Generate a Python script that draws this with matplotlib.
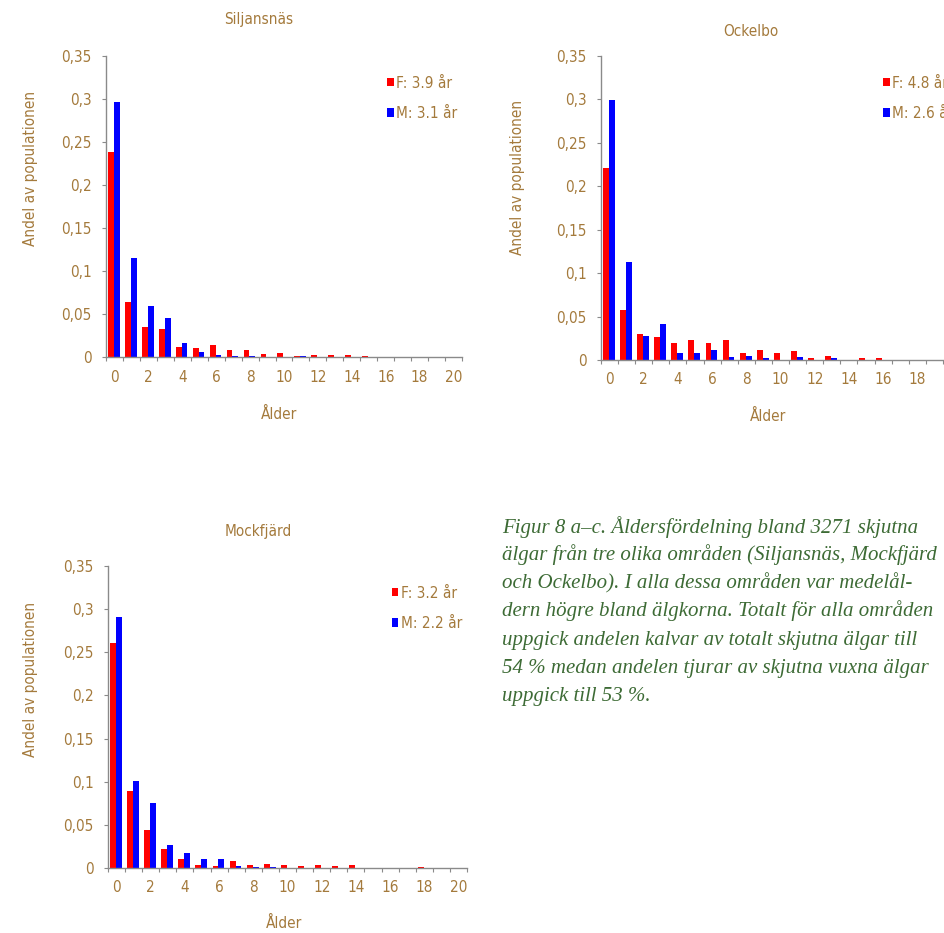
import matplotlib.pyplot as plt
import numpy as np

W, H = 944, 933

ages = list(range(21))
tick_ages = list(range(0, 21, 2))
y_ticks = [0, 0.05, 0.1, 0.15, 0.2, 0.25, 0.3, 0.35]
y_labels = ['0', '0,05', '0,1', '0,15', '0,2', '0,25', '0,3', '0,35']

# andel av populationen per ålder (0-20 år), F = kor, M = tjurar
silj_f = [0.238, 0.064, 0.035, 0.032, 0.012, 0.010, 0.014, 0.008, 0.008, 0.004,
          0.005, 0.001, 0.002, 0.002, 0.002, 0.001, 0, 0, 0, 0, 0]
silj_m = [0.296, 0.115, 0.059, 0.045, 0.016, 0.006, 0.002, 0.001, 0.001, 0,
          0, 0.001, 0, 0, 0, 0, 0, 0, 0, 0, 0]

ock_f = [0.221, 0.057, 0.030, 0.027, 0.020, 0.023, 0.020, 0.023, 0.008, 0.012,
         0.008, 0.010, 0.002, 0.005, 0, 0.002, 0.002, 0, 0, 0, 0]
ock_m = [0.299, 0.113, 0.028, 0.041, 0.008, 0.008, 0.012, 0.003, 0.005, 0.002,
         0, 0.003, 0, 0.002, 0, 0, 0, 0, 0, 0, 0]

mock_f = [0.261, 0.089, 0.044, 0.022, 0.010, 0.004, 0.002, 0.008, 0.004, 0.005,
          0.004, 0.002, 0.004, 0.002, 0.004, 0, 0, 0, 0.001, 0, 0]
mock_m = [0.291, 0.101, 0.075, 0.027, 0.017, 0.010, 0.010, 0.002, 0.001, 0.001,
          0, 0, 0, 0, 0, 0, 0, 0, 0, 0, 0]

legend_f = ['F: 3.9 år', 'F: 4.8 år', 'F: 3.2 år']
legend_m = ['M: 3.1 år', 'M: 2.6 år', 'M: 2.2 år']
titles = ['Siljansnäs', 'Ockelbo', 'Mockfjärd']

caption = [
    'Figur 8 a\u2013c. Åldersfördelning bland 3271 skjutna',
    'älgar från tre olika områden (Siljansnäs, Mockfjärd',
    'och Ockelbo). I alla dessa områden var medelål-',
    'dern högre bland älgkorna. Totalt för alla områden',
    'uppgick andelen kalvar av totalt skjutna älgar till',
    '54 % medan andelen tjurar av skjutna vuxna älgar',
    'uppgick till 53 %.',
]

brown = '#a47a3c'
green = '#3d6b35'
grey = '#8a8a8a'
narrow = dict(family=['DejaVu Sans'], stretch='condensed')
fs = 11

fig = plt.figure(figsize=(W / 100, H / 100), dpi=100)


def add_ax(left, top, right, bottom):
    return fig.add_axes([left / W, 1 - bottom / H, (right - left) / W, (bottom - top) / H])


# (pixelbox, title pos, ylabel pos, xlabel pos, legend pos) in axes coords
panels = [
    ((106, 56, 462, 357), (0.43, 1.12), (-0.191, 0.628), (0.486, -0.166), (0.79, 0.935)),
    ((601, 56, 960, 360), (0.418, 1.082), (-0.212, 0.602), (0.465, -0.161), (0.786, 0.935)),
    ((108, 566, 467, 868), (0.418, 1.113), (-0.195, 0.626), (0.49, -0.159), (0.79, 0.935)),
]
data = [(silj_f, silj_m), (ock_f, ock_m), (mock_f, mock_m)]

x = np.array(ages)
for i, (box, tpos, ypos, xpos, lpos) in enumerate(panels):
    ax = add_ax(*box)
    f, m = data[i]
    bf = ax.bar(x - 0.385, f, width=0.345, align='edge', color='#ff0000', linewidth=0)
    bm = ax.bar(x - 0.04, m, width=0.345, align='edge', color='#0000ff', linewidth=0)

    ax.set_xlim(-0.5, 20.5)
    ax.set_ylim(0, 0.35)
    ax.set_xticks(tick_ages)
    ax.set_xticklabels([str(a) for a in tick_ages])
    ax.set_xticks(np.arange(-0.5, 21, 1), minor=True)
    ax.tick_params(axis='x', which='major', length=0, pad=9, labelcolor=brown, labelsize=fs)
    ax.tick_params(axis='x', which='minor', length=3, color=grey, width=0.8)
    ax.set_yticks(y_ticks)
    ax.set_yticklabels(y_labels)
    ax.tick_params(axis='y', length=3, color=grey, width=0.8, pad=7.5, labelcolor=brown, labelsize=fs)
    for lab in ax.get_xticklabels() + ax.get_yticklabels():
        lab.set_family(narrow['family'])
        lab.set_stretch(narrow['stretch'])

    for s in ['top', 'right']:
        ax.spines[s].set_visible(False)
    for s in ['left', 'bottom']:
        ax.spines[s].set_color(grey)
        ax.spines[s].set_linewidth(1.0)

    ax.set_ylabel('Andel av populationen', color=brown, fontsize=fs, **narrow)
    ax.yaxis.set_label_coords(*ypos)
    ax.set_xlabel('Ålder', color=brown, fontsize=fs, **narrow)
    ax.xaxis.set_label_coords(*xpos)
    ax.text(tpos[0], tpos[1], titles[i], transform=ax.transAxes, ha='center', va='center',
            color=brown, fontsize=fs, **narrow)

    leg = ax.legend([bf, bm], [legend_f[i], legend_m[i]], loc='upper left', bbox_to_anchor=lpos,
                    frameon=False, handlelength=0.45, handleheight=0.45, handletextpad=0.15,
                    labelspacing=1.0, borderpad=0, borderaxespad=0,
                    prop={'family': narrow['family'], 'stretch': narrow['stretch'], 'size': fs})
    for t in leg.get_texts():
        t.set_color(brown)

line_y = [527, 555, 583, 611, 640, 668, 697]
for yy, line in zip(line_y, caption):
    fig.text(502 / W, 1 - yy / H, line, ha='left', va='center', color=green,
             fontsize=15.0, family=['Liberation Serif', 'DejaVu Serif'], style='italic')

fig.savefig('out.png', dpi=100)
